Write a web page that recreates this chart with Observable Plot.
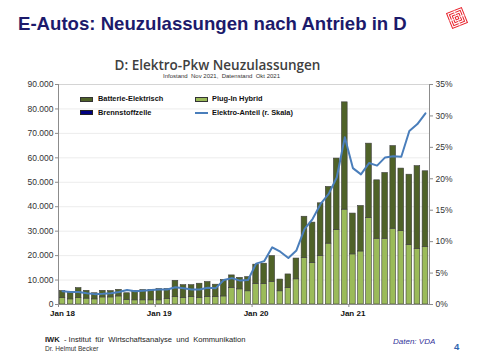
<!DOCTYPE html>
<html><head><meta charset="utf-8">
<script src="https://cdn.jsdelivr.net/npm/d3@7"></script>
<script src="https://cdn.jsdelivr.net/npm/@observablehq/plot@0.6"></script>
<style>
html,body{margin:0;padding:0;background:#fff;}
#page{position:relative;width:480px;height:360px;overflow:hidden;font-family:Arial,"Liberation Sans",sans-serif;background:#fff;}
#chart{position:absolute;left:0;top:0;}
.t{position:absolute;white-space:nowrap;line-height:1;z-index:2;}
.sw{position:absolute;z-index:2;box-sizing:border-box;}
</style></head><body>
<div id="page">
  <div class="t" style="left:18px;top:14.5px;font-size:18.6px;font-weight:bold;color:#1c1a6b;">E-Autos: Neuzulassungen nach Antrieb in D</div>
  <svg class="sw" style="left:445px;top:6px" width="24" height="24" viewBox="0 0 24 24">
    <g transform="rotate(-22 12 12)" fill="none" stroke="#e8202a" stroke-width="1">
      <rect x="4" y="4" width="16" height="16"/>
      <rect x="6.2" y="6.2" width="11.6" height="11.6"/>
      <rect x="8.4" y="8.4" width="7.2" height="7.2"/>
      <rect x="10.6" y="10.6" width="2.8" height="2.8"/>
      <path d="M12 4v4.4M4 12h4.4M12 20v-4.4M20 12h-4.4" stroke="#fff" stroke-width="1.1"/>
    </g>
  </svg>
  <div class="t" style="left:217.5px;top:59.3px;transform:translateX(-50%);font-family:'Open Sans','Noto Sans',sans-serif;font-weight:600;font-size:13.5px;color:#404040;">D: Elektro-Pkw Neuzulassungen</div>
  <div class="t" style="left:221.5px;top:73px;transform:translateX(-50%);font-size:6px;color:#333;">Infostand&nbsp; Nov 2021,&nbsp; Datenstand&nbsp; Okt 2021</div>

  <div class="sw" style="left:80px;top:96.5px;width:13px;height:5px;background:#4f6228;border:0.6px solid #333;"></div>
  <div class="t" style="left:98px;top:95.4px;font-size:7.4px;font-weight:bold;color:#111;">Batterie-Elektrisch</div>
  <div class="sw" style="left:80px;top:110px;width:13px;height:5px;background:#000080;border:0.6px solid #222;"></div>
  <div class="t" style="left:98px;top:108.9px;font-size:7.4px;font-weight:bold;color:#111;">Brennstoffzelle</div>
  <div class="sw" style="left:195px;top:96.5px;width:13px;height:5px;background:#9bbb59;border:0.6px solid #333;"></div>
  <div class="t" style="left:212px;top:95.4px;font-size:7.4px;font-weight:bold;color:#111;">Plug-In Hybrid</div>
  <div class="sw" style="left:195px;top:111.5px;width:13px;height:2px;background:#4a7ebb;"></div>
  <div class="t" style="left:212px;top:108.9px;font-size:7.4px;font-weight:bold;color:#111;">Elektro-Anteil (r. Skala)</div>

  <div class="t" style="left:45px;top:336.3px;font-size:7.6px;color:#222;"><b>IWK</b>&nbsp; - Institut&nbsp; für&nbsp; Wirtschaftsanalyse&nbsp; und&nbsp; Kommunikation</div>
  <div class="t" style="left:45px;top:345.8px;font-size:6.6px;color:#333;">Dr. Helmut Becker</div>
  <div class="t" style="left:393px;top:338px;font-size:8px;font-style:italic;color:#333399;">Daten: VDA</div>
  <div class="t" style="left:454px;top:341.5px;font-size:9.5px;font-weight:bold;color:#2f64b0;">4</div>
  <div id="chart"></div>
</div>
<script>
// Months (categories), Jan 2018 .. Oct 2021
const months = [
  "Jan 18","Feb 18","Mär 18","Apr 18","Mai 18","Jun 18","Jul 18","Aug 18","Sep 18","Okt 18","Nov 18","Dez 18",
  "Jan 19","Feb 19","Mär 19","Apr 19","Mai 19","Jun 19","Jul 19","Aug 19","Sep 19","Okt 19","Nov 19","Dez 19",
  "Jan 20","Feb 20","Mär 20","Apr 20","Mai 20","Jun 20","Jul 20","Aug 20","Sep 20","Okt 20","Nov 20","Dez 20",
  "Jan 21","Feb 21","Mär 21","Apr 21","Mai 21","Jun 21","Jul 21","Aug 21","Sep 21","Okt 21"
];
// Plug-In Hybrid new registrations (bottom segment)
const plugInHybrid = [
  2600,2100,2600,2400,2100,2900,2900,3300,1900,1700,1700,1700,
  1700,2300,3000,2700,3000,2700,3100,3000,3300,6800,6200,5400,
  8400,8400,9300,5400,6700,10300,19000,17000,19800,24900,30400,38800,
  20500,21700,35400,26900,26900,31000,30000,24300,22700,23500
];
// Batterie-Elektrisch new registrations (top segment)
const batterieElektrisch = [
  2900,2700,4100,3200,2500,2700,2600,2700,2700,3800,4200,4300,
  4600,4000,6700,5200,4900,5800,6100,5100,6700,5100,4700,5800,
  7900,8300,10500,4800,5600,8500,16900,16500,21600,23200,29300,43900,
  16700,18600,30400,23900,26900,33800,25600,28800,33900,31000
];
// Elektro-Anteil in % (right scale)
const elektroAnteil = [
  2.1,2.0,2.0,1.8,1.65,1.7,1.8,2.0,2.3,2.1,2.2,2.3,
  2.4,2.4,2.75,2.6,2.4,2.4,2.65,2.6,3.9,4.2,3.8,3.9,
  6.5,6.9,9.1,8.4,7.4,8.6,12.0,13.6,16.0,17.6,20.2,26.6,
  21.7,20.7,22.5,22.1,23.4,23.6,23.5,27.6,28.7,30.4
];
const leftTicks = [0,10000,20000,30000,40000,50000,60000,70000,80000,90000];
const rightTicks = [0,5,10,15,20,25,30,35];
const xTickLabels = ["Jan 18","Jan 19","Jan 20","Jan 21"];
const xTickIndex = [0,12,24,36];

const yMax = 90000, pMax = 35;
const k = yMax / pMax;
const idx = d3.range(months.length);
const loc = d3.formatLocale({decimal:",", thousands:".", grouping:[3], currency:["","€"]});
const fmt = loc.format(",d");

const chart = Plot.plot({
  width: 480, height: 360,
  marginLeft: 58, marginRight: 51, marginTop: 84, marginBottom: 56,
  x: {domain: [0, months.length], axis: null},
  y: {domain: [0, yMax], axis: null},
  style: {fontFamily: "Arial, 'Liberation Sans', sans-serif", fontSize: "8.5px", color: "#333", background: "transparent", overflow: "visible"},
  marks: [
    Plot.ruleY(leftTicks.slice(1, -1), {stroke: "#ececec", strokeWidth: 1}),
    Plot.ruleY([yMax], {stroke: "#d4d4d4", strokeWidth: 1}),
    Plot.rectY(idx, {x1: i => i, x2: i => i + 1, y1: 0, y2: i => plugInHybrid[i],
      insetLeft: 1.2, insetRight: 1.2, fill: "#9bbb59", stroke: "#3c3c3c", strokeWidth: 0.6}),
    Plot.rectY(idx, {x1: i => i, x2: i => i + 1, y1: i => plugInHybrid[i], y2: i => plugInHybrid[i] + batterieElektrisch[i],
      insetLeft: 1.2, insetRight: 1.2, fill: "#4f6228", stroke: "#3c3c3c", strokeWidth: 0.6}),
    Plot.frame({anchor: "left", stroke: "#8c8c8c"}),
    Plot.frame({anchor: "right", stroke: "#8c8c8c"}),
    Plot.frame({anchor: "bottom", stroke: "#8c8c8c"}),
    Plot.line(idx, {x: i => i + 0.5, y: i => elektroAnteil[i] * k, stroke: "#4a7ebb", strokeWidth: 2, strokeLinejoin: "round"}),
    Plot.axisY({anchor: "left", ticks: leftTicks, tickSize: 3, tickPadding: 2, tickFormat: fmt, label: null, stroke: "#8c8c8c", fill: "#333"}),
    Plot.axisY({anchor: "right", ticks: rightTicks.map(p => p * k), tickSize: 3, tickPadding: 3, tickFormat: d => Math.round(d / k) + "%", label: null, stroke: "#8c8c8c", fill: "#333"}),
    Plot.axisX({ticks: xTickIndex, tickSize: 3, tickFormat: () => "", label: null, stroke: "#8c8c8c"}),
    Plot.axisX({ticks: xTickIndex.map(d => d + 0.5), tickSize: 0, tickPadding: 6, tickFormat: (d, i) => xTickLabels[i], label: null, fontWeight: "bold", fontSize: 8, fill: "#111"})
  ]
});
document.getElementById("chart").appendChild(chart);
</script>
</body></html>
